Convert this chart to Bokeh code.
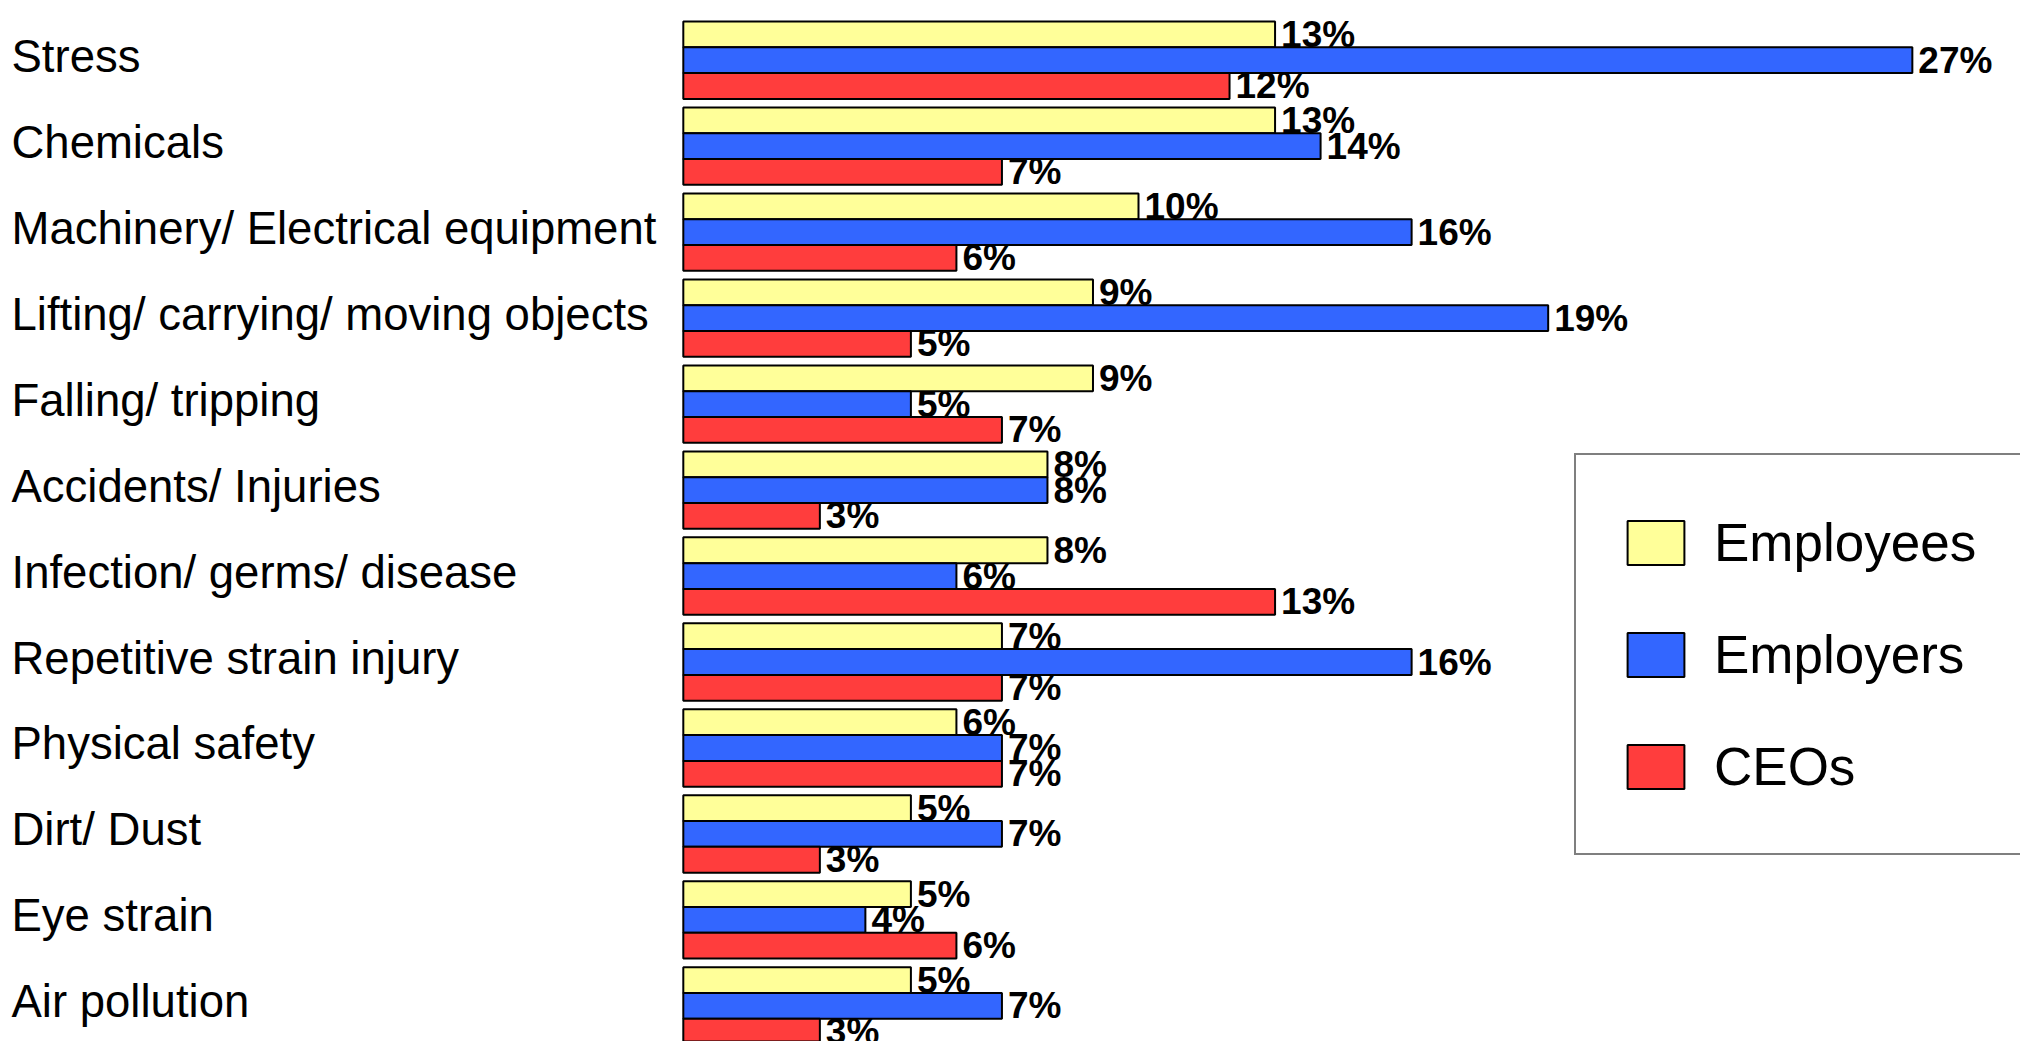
from bokeh.plotting import figure
from bokeh.models import Range1d, ColumnDataSource, LabelSet, Legend, LegendItem
from bokeh.core.properties import value
from bokeh.embed import file_html
from bokeh.resources import INLINE

# ---- data -------------------------------------------------------------
categories = [
    "Stress",
    "Chemicals",
    "Machinery/ Electrical equipment",
    "Lifting/ carrying/ moving objects",
    "Falling/ tripping",
    "Accidents/ Injuries",
    "Infection/ germs/ disease",
    "Repetitive strain injury",
    "Physical safety",
    "Dirt/ Dust",
    "Eye strain",
    "Air pollution",
]
employees = [13, 13, 10, 9, 9, 8, 8, 7, 6, 5, 5, 5]
employers = [27, 14, 16, 19, 5, 8, 6, 16, 7, 7, 4, 7]
ceos = [12, 7, 6, 5, 7, 3, 13, 7, 7, 3, 6, 3]
series_names = ["Employees", "Employers", "CEOs"]

# ---- styles -----------------------------------------------------------
colors = ["#FFFF99", "#3366FF", "#FF3D3D"]
FONT = "Liberation Sans"
BAR_H = 0.3

series_values = [employees, employers, ceos]

p = figure(
    width=2020, height=1041,
    x_range=Range1d(-15.0, 29.376),
    y_range=Range1d(11.414, -0.6944),
    output_backend="svg", toolbar_location=None,
    x_axis_location=None, y_axis_location=None,
    min_border=0, outline_line_color=None,
    background_fill_color="white", border_fill_color="white",
)
p.xgrid.visible = False
p.ygrid.visible = False

first_renderers = [None, None, None]
for i, cat in enumerate(categories):
    for j, vals in enumerate(series_values):
        v = vals[i]
        src = ColumnDataSource(dict(y=[i + (j - 1) * BAR_H], right=[v], lbl=[f"{v}%"]))
        r = p.hbar(y="y", left=0, right="right", height=BAR_H, source=src,
                   fill_color=colors[j], line_color="black", line_width=2)
        if first_renderers[j] is None:
            first_renderers[j] = r
        p.text(x="right", y="y", text="lbl", source=src, x_offset=6,
               text_font=value(FONT), text_font_style="bold",
               text_font_size="37px", text_color="black",
               text_align="left", text_baseline="middle")

cat_src = ColumnDataSource(dict(pos=list(range(len(categories))), cat=categories))
p.add_layout(LabelSet(x=11, x_units="screen", y="pos", y_offset=4, text="cat", source=cat_src,
                      text_font=value(FONT), text_font_size="45.5px",
                      text_color="black", text_align="left", text_baseline="middle"))

legend = Legend(
    items=[LegendItem(label=n, renderers=[r]) for n, r in zip(series_names, first_renderers)],
    location=(1574, 186), orientation="vertical",
    padding=44, spacing=26, margin=0,
    glyph_width=71, glyph_height=55, label_height=86, label_width=300,
    label_standoff=23,
    label_text_font=FONT, label_text_font_size="53px", label_text_color="black",
    border_line_color="black", border_line_width=2,
    background_fill_color="white", background_fill_alpha=1.0,
)
p.add_layout(legend)

open("out.html", "w").write(file_html(p, INLINE))
